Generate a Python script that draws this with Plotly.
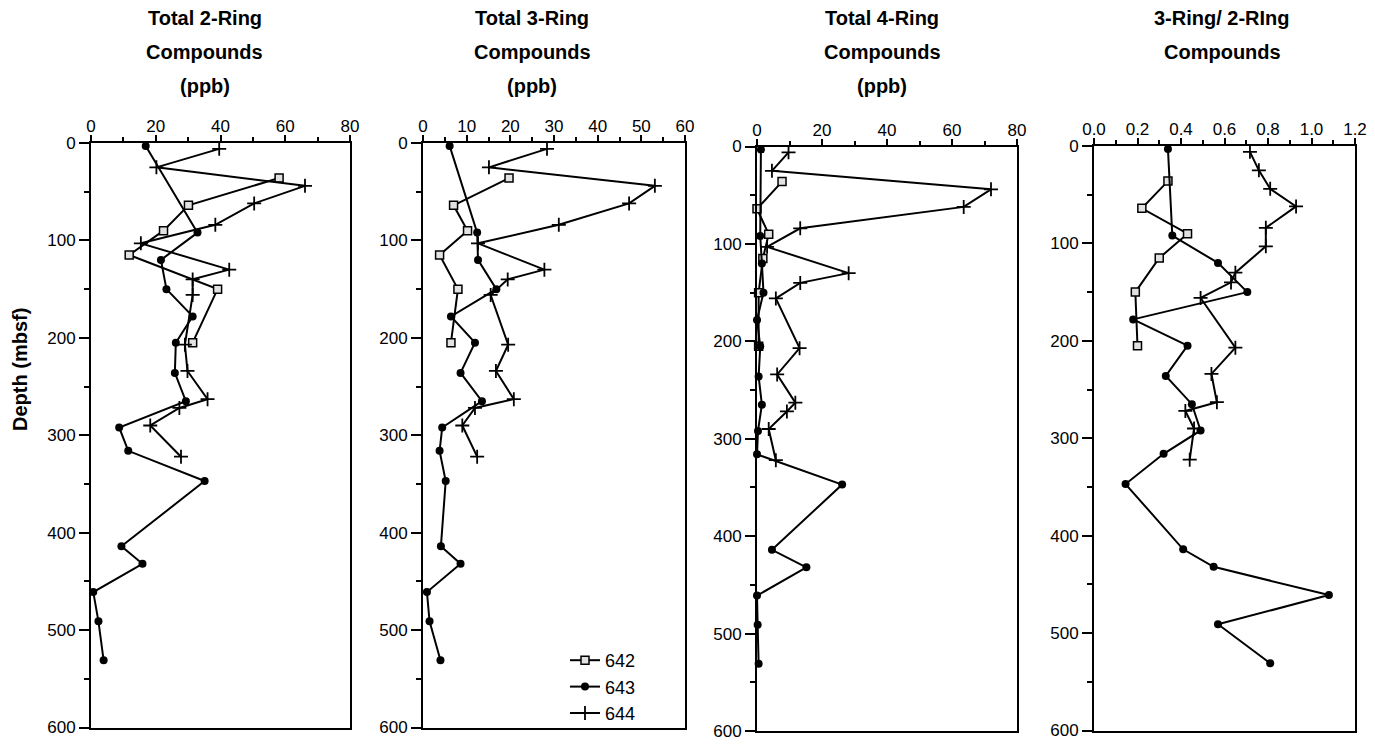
import plotly.graph_objects as go

# ---------------- data ----------------
sites = ["642", "643", "644"]

depth_642 = [36, 64, 90, 115, 150, 205]
depth_643 = [3, 92, 120, 150, 178, 205, 236, 265, 292, 316, 347, 414, 432, 461, 491, 531]
depth_644 = [6, 25, 44, 62, 84, 103, 130, 140, 156, 207, 234, 263, 272, 290, 322]

ring2_642 = [58.1, 30.1, 22.4, 11.8, 39.1, 31.4]
ring2_643 = [16.9, 32.9, 21.6, 23.3, 31.4, 26.2, 25.9, 29.3, 8.7, 11.5, 35.1, 9.4, 15.9, 0.7, 2.3, 3.9]
ring2_644 = [39.6, 20.2, 66.1, 50.4, 38.4, 15.4, 42.7, 31.4, 31.4, 29.0, 29.8, 36.0, 27.3, 18.3, 27.8]

ring3_642 = [19.7, 7.0, 10.2, 3.8, 8.0, 6.4]
ring3_643 = [6.1, 12.4, 12.6, 16.8, 6.4, 11.9, 8.6, 13.5, 4.4, 3.8, 5.2, 4.1, 8.6, 0.9, 1.5, 4.0]
ring3_644 = [28.4, 15.1, 53.1, 47.2, 31.1, 12.6, 27.8, 19.4, 15.5, 19.5, 16.7, 20.8, 11.9, 9.0, 12.4]

ring4_642 = [7.7, 0.0, 3.6, 1.8, 0.5, 0.5]
ring4_643 = [1.2, 1.0, 1.5, 2.0, 0.0, 1.0, 0.5, 1.5, 0.3, 0.0, 26.2, 4.6, 15.2, 0.0, 0.2, 0.5]
ring4_644 = [9.7, 4.6, 72.0, 63.6, 13.3, 3.1, 28.2, 13.3, 5.8, 13.1, 6.2, 11.8, 9.2, 3.6, 5.8]

ratio_642 = [0.34, 0.22, 0.43, 0.30, 0.19, 0.20]
ratio_643 = [0.34, 0.36, 0.57, 0.705, 0.18, 0.43, 0.33, 0.45, 0.49, 0.32, 0.145, 0.41, 0.55, 1.08, 0.57, 0.81]
ratio_644 = [0.717, 0.758, 0.81, 0.929, 0.79, 0.79, 0.65, 0.63, 0.49, 0.65, 0.54, 0.565, 0.42, 0.46, 0.44]

titles = [
    ["Total 2-Ring", "Compounds", "(ppb)"],
    ["Total 3-Ring", "Compounds", "(ppb)"],
    ["Total 4-Ring", "Compounds", "(ppb)"],
    ["3-Ring/ 2-RIng", "Compounds"],
]
x_ranges = [[0, 80], [0, 60], [0, 80], [0, 1.2]]
x_dticks = [20, 10, 20, 0.2]
x_formats = ["d", "d", "d", ".1f"]
y_label = "Depth (mbsf)"

panels = [
    (ring2_642, ring2_643, ring2_644),
    (ring3_642, ring3_643, ring3_644),
    (ring4_642, ring4_643, ring4_644),
    (ratio_642, ratio_643, ratio_644),
]
depths = (depth_642, depth_643, depth_644)

# ---------------- layout geometry (pixels) ----------------
W, H = 1375, 744
panel_px = [(91, 350), (423, 685), (757, 1017), (1094, 1355)]
panel_py = [(143, 727.5), (143, 727.5), (146.5, 731), (146, 730.5)]
title_cx = [205, 532, 882, 1222]
FONT = "Liberation Sans, Arial, Helvetica, sans-serif"

styles = {
    "642": dict(symbol="square", size=8, color="#e2e2e2", line=dict(color="black", width=1.5)),
    "643": dict(symbol="circle", size=8, color="black", line=dict(color="black", width=0)),
    "644": dict(symbol="cross-thin", size=10, color="black", line=dict(color="black", width=1.8)),
}

fig = go.Figure()
for i, vals in enumerate(panels):
    ax = "" if i == 0 else str(i + 1)
    for s, v, d in zip(sites, vals, depths):
        fig.add_trace(go.Scatter(
            x=v, y=d, mode="lines+markers", name=s,
            line=dict(color="black", width=2),
            marker=styles[s],
            xaxis="x" + ax, yaxis="y" + ax,
            showlegend=(i == 1), legendgroup=s,
            cliponaxis=False,
        ))

layout = dict(
    width=W, height=H,
    margin=dict(l=0, r=0, t=0, b=0),
    paper_bgcolor="white", plot_bgcolor="white",
    font=dict(family=FONT, color="black", size=17),
    legend=dict(x=565 / W, y=1 - 642 / H, xanchor="left", yanchor="top",
                bgcolor="rgba(0,0,0,0)", font=dict(size=18), tracegroupgap=0,
                itemwidth=30),
)
annotations = []
for i in range(4):
    ax = "" if i == 0 else str(i + 1)
    x0, x1 = panel_px[i]
    y0, y1 = panel_py[i]
    layout["xaxis" + ax] = dict(
        domain=[x0 / W, x1 / W], anchor="y" + ax, side="top",
        range=x_ranges[i], dtick=x_dticks[i], tick0=0, tickformat=x_formats[i],
        showgrid=False, zeroline=False, automargin=False,
        showline=True, linecolor="black", linewidth=2, mirror=True,
        ticks="outside", ticklen=6, tickwidth=1.5, tickcolor="black",
        ticklabelstandoff=-4,
        minor=dict(dtick=x_dticks[i] / 2, ticks="outside", ticklen=4, tickwidth=1.5, tickcolor="black"),
        tickfont=dict(size=17),
    )
    layout["yaxis" + ax] = dict(
        domain=[1 - y1 / H, 1 - y0 / H], anchor="x" + ax,
        range=[600, 0], dtick=100, tick0=0,
        showgrid=False, zeroline=False, automargin=False,
        showline=True, linecolor="black", linewidth=2, mirror=True,
        ticks="outside", ticklen=10, tickwidth=1.5, tickcolor="black",
        minor=dict(dtick=50, ticks="outside", ticklen=5, tickwidth=1.5, tickcolor="black"),
        tickfont=dict(size=17),
    )
    for k, line in enumerate(titles[i]):
        annotations.append(dict(
            text="<b>%s</b>" % line, x=title_cx[i] / W, y=1 - (18 + 34 * k) / H,
            xref="paper", yref="paper", showarrow=False,
            xanchor="center", yanchor="middle", font=dict(size=20, family=FONT),
        ))
annotations.append(dict(
    text="<b>%s</b>" % y_label, x=20 / W, y=1 - 370 / H, xref="paper", yref="paper",
    showarrow=False, textangle=-90, xanchor="center", yanchor="middle",
    font=dict(size=20, family=FONT),
))
layout["annotations"] = annotations
fig.update_layout(**layout)
fig.write_html("out.html")
